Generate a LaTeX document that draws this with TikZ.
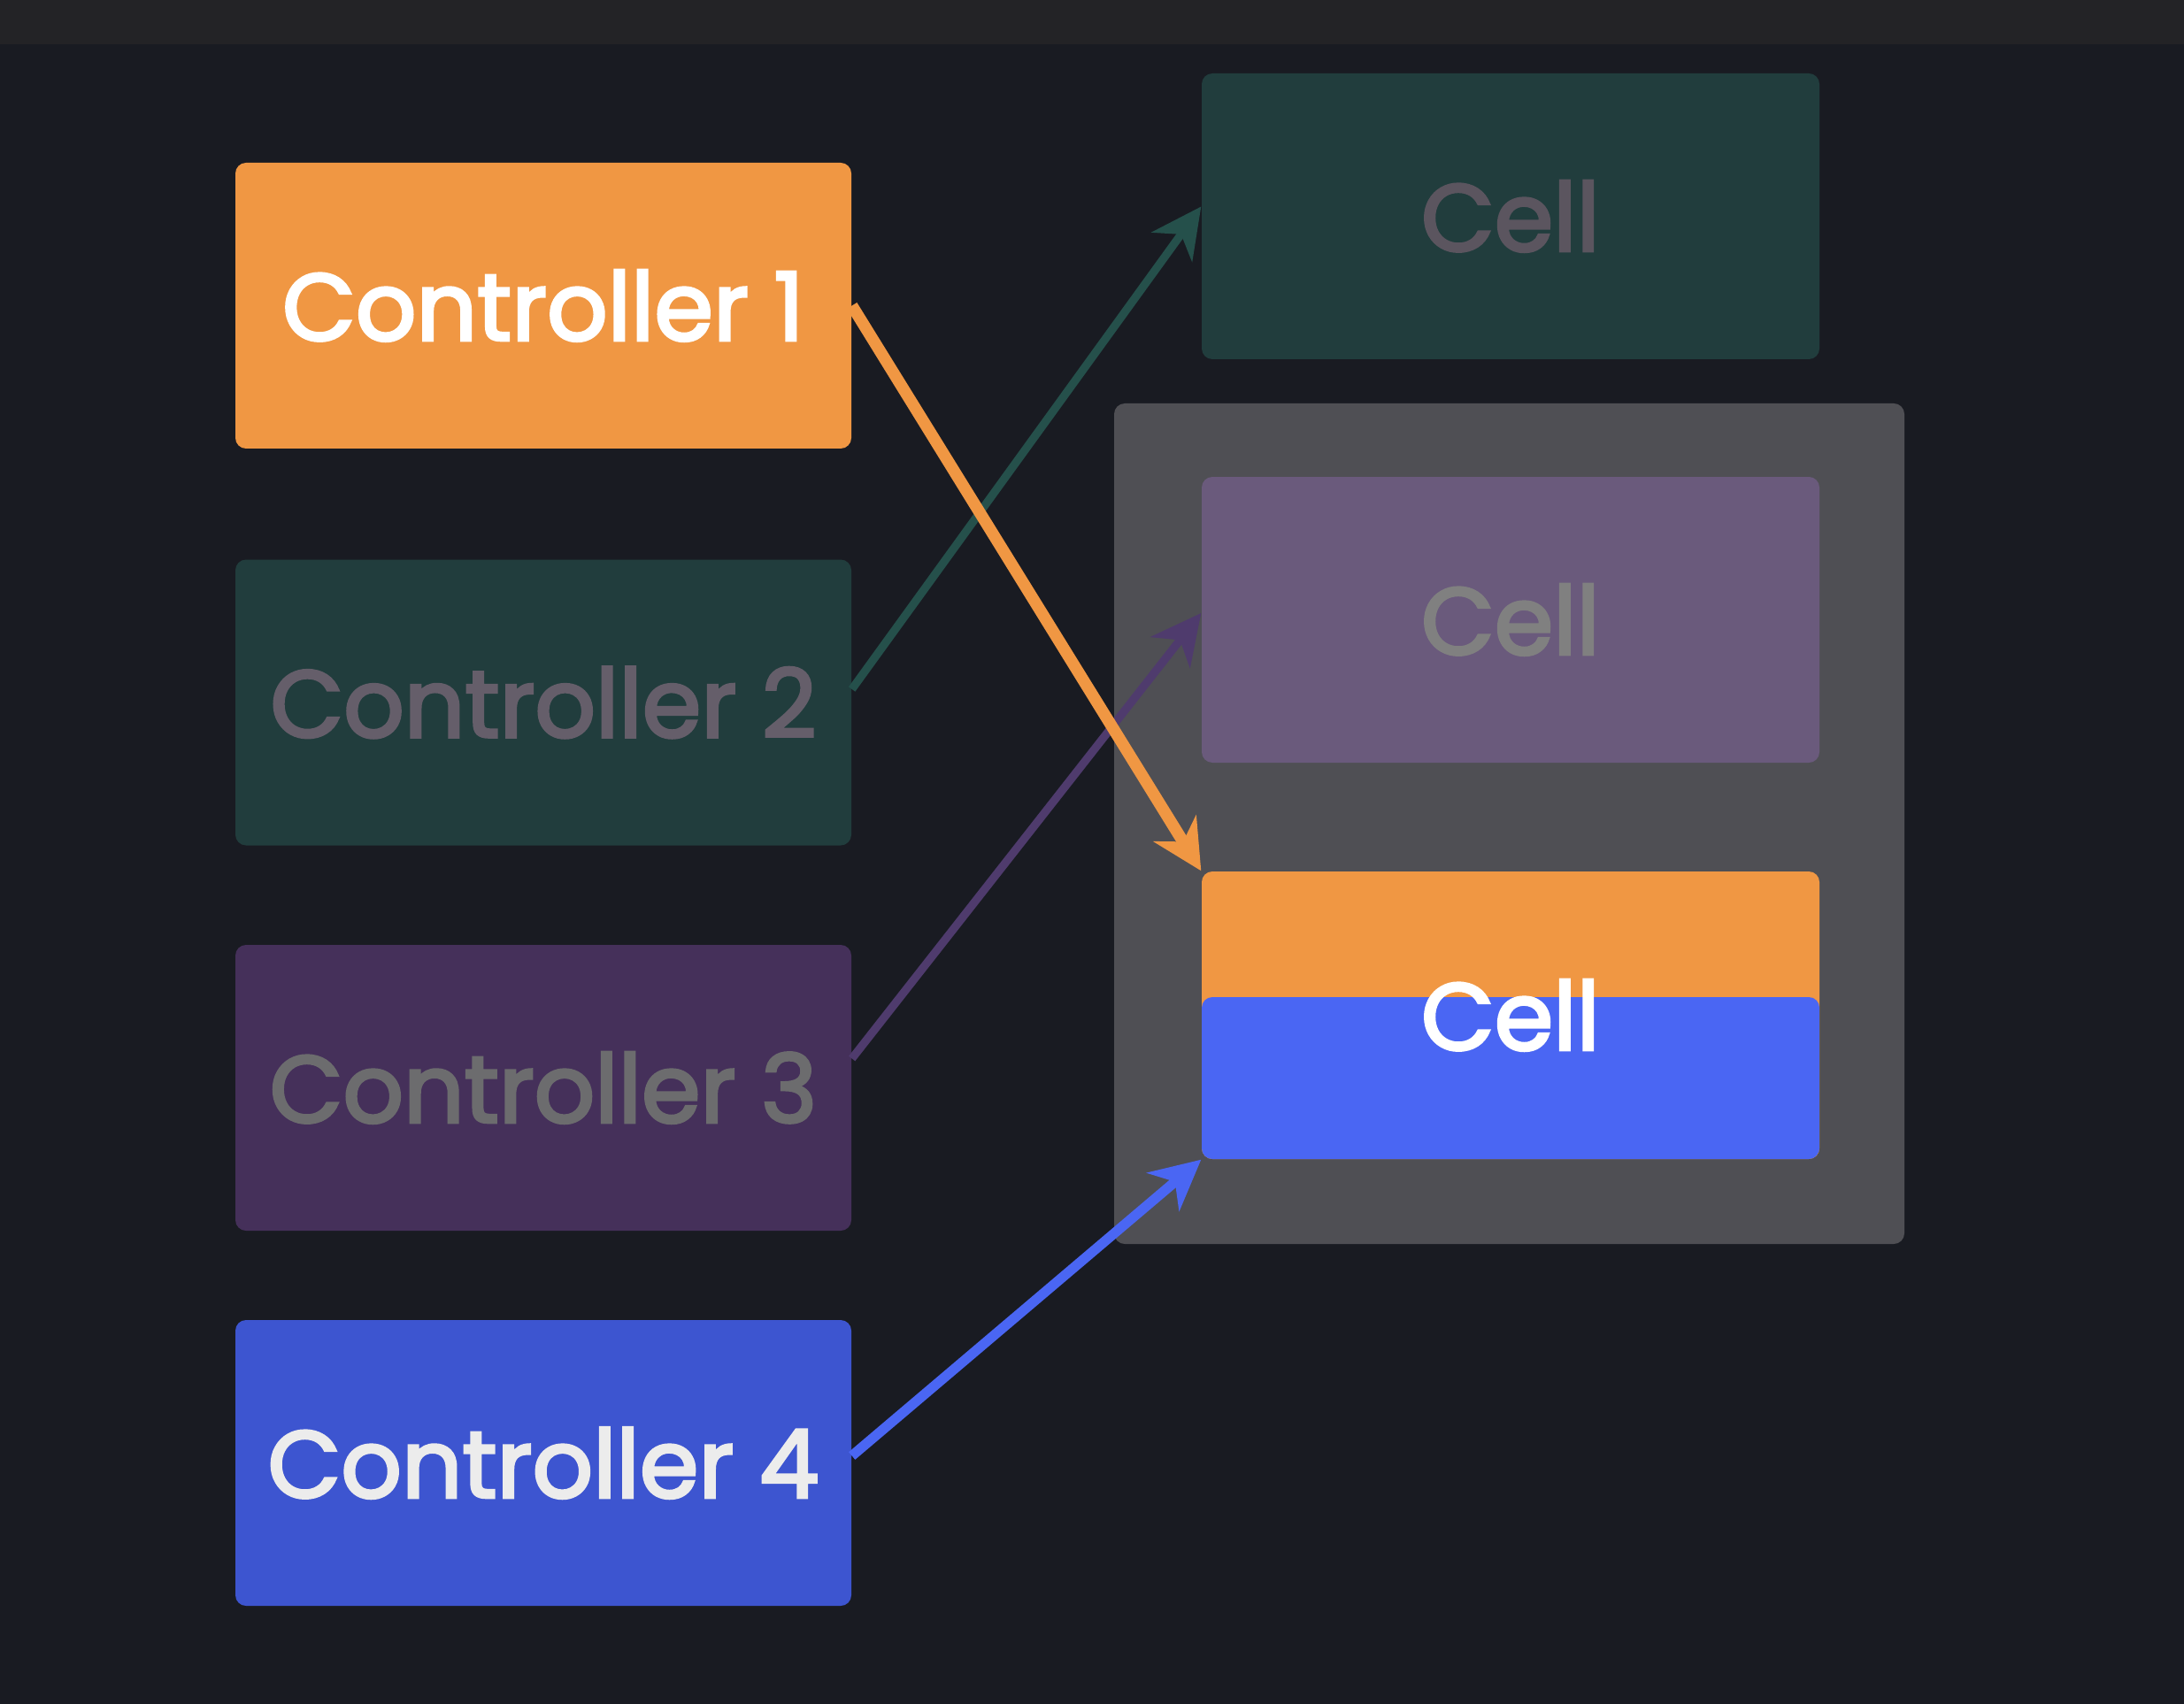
\documentclass[tikz,border=0pt]{standalone}
\usepackage{fontspec}
\setmainfont{Poppins}
\newfontfamily\labelfont{Poppins}[FakeBold=3]
\usetikzlibrary{arrows.meta,positioning}

\definecolor{bgdark}{HTML}{191B22}
\definecolor{bardark}{HTML}{232326}
\definecolor{ctrlorange}{HTML}{F09743}
\definecolor{ctrlgreen}{HTML}{213D3D}
\definecolor{ctrlpurple}{HTML}{45305A}
\definecolor{ctrlblue}{HTML}{3D55D0}
\definecolor{cellblue}{HTML}{4A66F3}
\definecolor{cellpurple}{HTML}{6A5A7C}
\definecolor{boxgray}{HTML}{4F4F54}
\definecolor{arrowgreen}{HTML}{25504B}
\definecolor{arrowpurple}{HTML}{4F3B6D}
\definecolor{dimtext}{HTML}{655E6A}
\definecolor{greytext}{HTML}{6C6C6E}

\tikzset{
  block/.style  = {shape=rectangle, rounded corners=0.12cm,
                   minimum width=6.96cm, minimum height=3.23cm,
                   inner sep=0pt, font=\labelfont\fontsize{30.5}{38}\selectfont},
  ctrl/.style   = {block},
  cell/.style   = {block, minimum width=6.98cm},
  group/.style  = {shape=rectangle, rounded corners=0.12cm, fill=boxgray,
                   minimum width=8.93cm, minimum height=9.5cm},
  link/.style   = {-{Stealth[length=16pt,width=16pt,inset=5pt]}, line width=2.6pt}
}

\begin{document}
\begin{tikzpicture}
\fill[bgdark] (0,0) rectangle (24.68,-19.26);
\fill[bardark] (0,0) rectangle (24.68,-0.5);
\useasboundingbox (0,0) rectangle (24.68,-19.26);

\node[ctrl, fill=ctrlorange, text=white]     (ctrl1) at (6.14,-3.455)  {Controller 1};
\node[ctrl, fill=ctrlgreen, text=dimtext]    (ctrl2) at (6.14,-7.94)   {Controller 2};
\node[ctrl, fill=ctrlpurple, text=greytext]  (ctrl3) at (6.14,-12.295) {Controller 3};
\node[ctrl, fill=ctrlblue, text=white!85!gray] (ctrl4) at (6.14,-16.535) {Controller 4};

\node[cell, fill=ctrlgreen, text=dimtext!90!black] (cell1) at (17.07,-2.445) {Cell};
\node[group] (pool) at (17.055,-9.31) {};
\node[cell, fill=cellpurple, text=gray] (cell2) at (17.07,-7.005) {Cell};
\node[cell, fill=ctrlorange, text=white, minimum height=3.25cm,
      path picture={\fill[cellblue, rounded corners=0.12cm]
        ([yshift=0.205cm]path picture bounding box.west)
        rectangle (path picture bounding box.south east);}]
  (cell3) at (17.07,-11.475) {Cell};

\draw[link, arrowgreen]  ([yshift=0.15cm]ctrl2.east) -- ([yshift=0.11cm]cell1.west);
\draw[link, arrowpurple] ([yshift=0.33cm]ctrl3.east) -- ([yshift=0.075cm]cell2.west);
\draw[link, ctrlorange, line width=3.8pt] (ctrl1.east) -- (cell3.north west);
\draw[link, cellblue, line width=3.2pt] ([yshift=0.08cm]ctrl4.east) -- (cell3.south west);
\end{tikzpicture}
\end{document}
